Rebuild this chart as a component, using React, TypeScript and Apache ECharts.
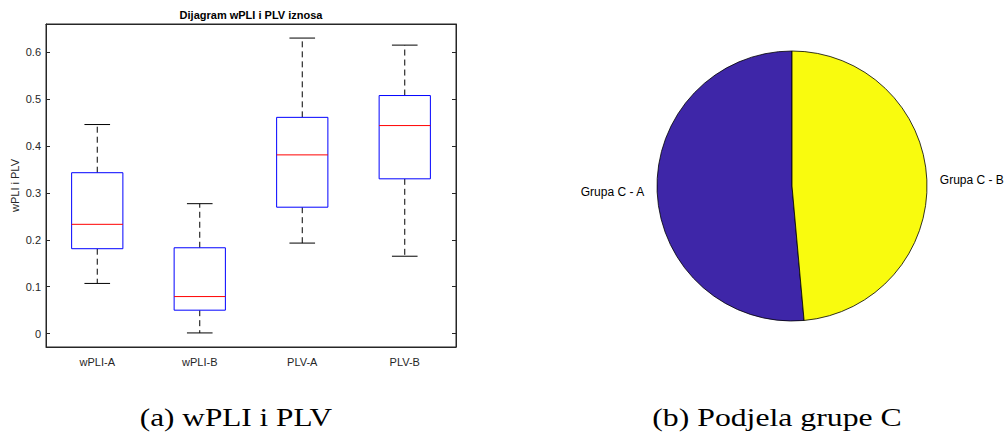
import React, { useEffect, useRef } from "react";
import * as echarts from "echarts";

const categories = ["wPLI-A", "wPLI-B", "PLV-A", "PLV-B"];
const whiskerLow = [0.107, 0.0015, 0.193, 0.165];
const quartile1 = [0.181, 0.05, 0.2695, 0.33];
const medians = [0.233, 0.079, 0.381, 0.4435];
const quartile3 = [0.343, 0.183, 0.461, 0.5075];
const whiskerHigh = [0.4457, 0.277, 0.63, 0.615];

const pieLabels = ["Grupa C - A", "Grupa C - B"];
const pieValues = [18, 17];
const pieColors = ["#3E26A8", "#F9FB0E"];

const boxTitle = "Dijagram wPLI i PLV iznosa";
const yAxisTitle = "wPLI i PLV";
const captionA = "(a) wPLI i PLV";
const captionB = "(b) Podjela grupe C";

const AXIS = "#262626";
const FONT = "'Liberation Sans', Arial, Helvetica, sans-serif";
const SERIF = "'Liberation Serif', 'Times New Roman', serif";

export default function App() {
  const ref = useRef<HTMLDivElement>(null);
  useEffect(() => {
    document.body.style.margin = "0";
    const chart = echarts.init(ref.current!, null, { renderer: "svg" });
    const boxData = categories.map((_, i) => [
      i,
      whiskerLow[i],
      quartile1[i],
      medians[i],
      quartile3[i],
      whiskerHigh[i],
    ]);
    const fmt = (v: number) => {
      const k = Math.round(v * 10);
      if (Math.abs(v * 10 - k) > 1e-6) return "";
      return k === 0 ? "0" : (k / 10).toFixed(1);
    };
    const option: any = {
      animation: false,
      textStyle: { fontFamily: FONT },
      grid: {
        left: 46,
        right: 551,
        top: 24,
        bottom: 89,
        show: true,
        borderColor: AXIS,
        borderWidth: 1,
        backgroundColor: "#fff",
      },
      xAxis: [
        {
          type: "category",
          data: categories,
          boundaryGap: true,
          axisLine: { onZero: false, lineStyle: { color: AXIS, width: 1 } },
          axisTick: { inside: true, length: 4, alignWithLabel: true, lineStyle: { color: AXIS } },
          axisLabel: { color: AXIS, fontSize: 11, margin: 9, fontFamily: FONT },
          splitLine: { show: false },
        },
        {
          type: "category",
          data: categories,
          position: "top",
          boundaryGap: true,
          axisLine: { onZero: false, lineStyle: { color: AXIS, width: 1 } },
          axisTick: { inside: true, length: 4, alignWithLabel: true, lineStyle: { color: AXIS } },
          axisLabel: { show: false },
          splitLine: { show: false },
        },
      ],
      yAxis: [
        {
          type: "value",
          min: -0.0285,
          max: 0.66,
          splitNumber: 6,
          name: yAxisTitle,
          nameLocation: "middle",
          nameGap: 26,
          nameRotate: 90,
          nameTextStyle: { color: AXIS, fontSize: 11, fontFamily: FONT },
          axisLine: { show: true, onZero: false, lineStyle: { color: AXIS, width: 1 } },
          axisTick: { show: true, inside: true, length: 4, lineStyle: { color: AXIS } },
          axisLabel: { color: AXIS, fontSize: 11, margin: 5, formatter: fmt, fontFamily: FONT },
          splitLine: { show: false },
        },
        {
          type: "value",
          min: -0.0285,
          max: 0.66,
          splitNumber: 6,
          position: "right",
          axisLine: { show: true, onZero: false, lineStyle: { color: AXIS, width: 1 } },
          axisTick: { show: true, inside: true, length: 4, lineStyle: { color: AXIS } },
          axisLabel: { show: false },
          splitLine: { show: false },
        },
      ],
      series: [
        {
          type: "custom",
          xAxisIndex: 0,
          yAxisIndex: 0,
          data: boxData,
          encode: { x: 0, y: [1, 2, 3, 4, 5] },
          renderItem: (params: any, api: any) => {
            const xi = api.value(0);
            const pMin = api.coord([xi, api.value(1)]);
            const pQ1 = api.coord([xi, api.value(2)]);
            const pMed = api.coord([xi, api.value(3)]);
            const pQ3 = api.coord([xi, api.value(4)]);
            const pMax = api.coord([xi, api.value(5)]);
            const band = api.size([1, 0])[0];
            const bw = band * 0.5;
            const cw = band * 0.25;
            const cx = pMed[0];
            const dash = { stroke: "#000", lineWidth: 1, lineDash: [6, 4] };
            const solid = { stroke: "#000", lineWidth: 1 };
            return {
              type: "group",
              children: [
                { type: "line", shape: { x1: cx, y1: pQ3[1], x2: cx, y2: pMax[1] }, style: dash },
                { type: "line", shape: { x1: cx, y1: pQ1[1], x2: cx, y2: pMin[1] }, style: dash },
                { type: "line", shape: { x1: cx - cw / 2, y1: pMax[1], x2: cx + cw / 2, y2: pMax[1] }, style: solid },
                { type: "line", shape: { x1: cx - cw / 2, y1: pMin[1], x2: cx + cw / 2, y2: pMin[1] }, style: solid },
                {
                  type: "rect",
                  shape: { x: cx - bw / 2, y: pQ3[1], width: bw, height: pQ1[1] - pQ3[1] },
                  style: { fill: "#fff", stroke: "#0000FF", lineWidth: 1 },
                },
                {
                  type: "line",
                  shape: { x1: cx - bw / 2, y1: pMed[1], x2: cx + bw / 2, y2: pMed[1] },
                  style: { stroke: "#FF0000", lineWidth: 1 },
                },
              ],
            };
          },
        },
        {
          type: "pie",
          center: [792, 186],
          radius: 135,
          startAngle: 90,
          clockwise: false,
          avoidLabelOverlap: false,
          data: pieLabels.map((n, i) => ({
            name: n,
            value: pieValues[i],
            itemStyle: { color: pieColors[i] },
          })),
          itemStyle: { borderColor: "#000", borderWidth: 0.8 },
          label: {
            show: true,
            position: "outside",
            formatter: "{b}",
            color: "#000",
            fontSize: 12,
            fontFamily: FONT,
            distanceToLabelLine: 5,
          },
          labelLine: { show: false, length: 8, length2: 0 },
          emphasis: { disabled: true },
        },
      ],
      graphic: [
        {
          type: "text",
          x: 251,
          y: 15,
          style: {
            text: boxTitle,
            fontSize: 11,
            fontWeight: "bold",
            fill: "#000",
            fontFamily: FONT,
            textAlign: "center",
            textVerticalAlign: "middle",
          },
        },
        {
          type: "text",
          x: 236,
          y: 417.5,
          scaleX: 1.25,
          style: {
            text: captionA,
            fontSize: 25,
            fill: "#000",
            fontFamily: SERIF,
            textAlign: "center",
            textVerticalAlign: "middle",
          },
        },
        {
          type: "text",
          x: 777,
          y: 417.5,
          scaleX: 1.27,
          style: {
            text: captionB,
            fontSize: 25,
            fill: "#000",
            fontFamily: SERIF,
            textAlign: "center",
            textVerticalAlign: "middle",
          },
        },
      ],
    };
    chart.setOption(option);
    return () => chart.dispose();
  }, []);
  return <div ref={ref} style={{ width: 1007, height: 436 }} />;
}
